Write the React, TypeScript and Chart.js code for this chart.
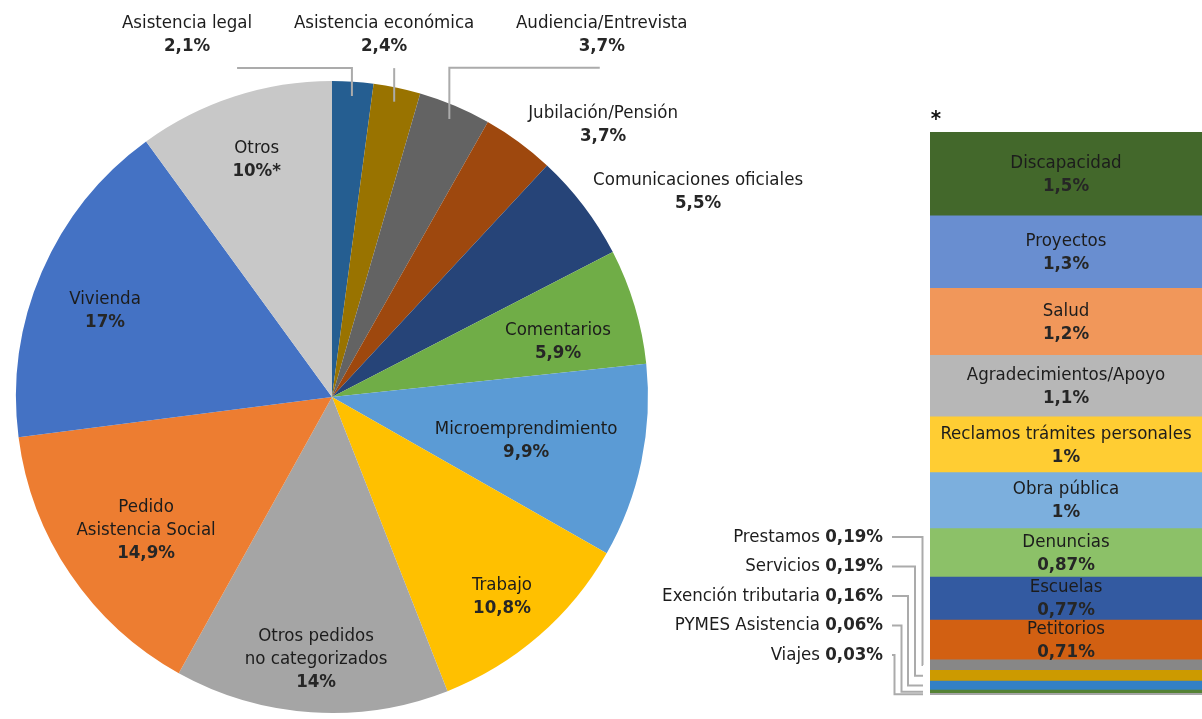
import React, { useEffect, useRef } from 'react';
import { Chart, registerables } from 'chart.js';

Chart.register(...registerables);

// ---------------- data ----------------
const PIE_LABELS = [
  'Asistencia legal',
  'Asistencia económica',
  'Audiencia/Entrevista',
  'Jubilación/Pensión',
  'Comunicaciones oficiales',
  'Comentarios',
  'Microemprendimiento',
  'Trabajo',
  'Otros pedidos\nno categorizados',
  'Pedido\nAsistencia Social',
  'Vivienda',
  'Otros',
];
const PIE_VALUES = [2.1, 2.4, 3.7, 3.7, 5.5, 5.9, 9.9, 10.8, 14, 14.9, 17, 10];
const PIE_SUFFIX = ['', '', '', '', '', '', '', '', '', '', '', '*'];
const PIE_COLORS = [
  '#255e91', '#997300', '#636363', '#9e480e', '#264478', '#70ad47',
  '#5b9bd5', '#ffc000', '#a5a5a5', '#ed7d31', '#4472c4', '#c8c8c8',
];

const BAR_LABELS = [
  'Discapacidad',
  'Proyectos',
  'Salud',
  'Agradecimientos/Apoyo',
  'Reclamos trámites personales',
  'Obra pública',
  'Denuncias',
  'Escuelas',
  'Petitorios',
  'Prestamos',
  'Servicios',
  'Exención tributaria',
  'PYMES Asistencia',
  'Viajes',
];
const BAR_VALUES = [1.5, 1.3, 1.2, 1.1, 1, 1, 0.87, 0.77, 0.71, 0.19, 0.19, 0.16, 0.06, 0.03];
const BAR_COLORS = [
  '#43682b', '#698ed0', '#f1975a', '#b7b7b7', '#ffcd33', '#7cafdd', '#8cc168',
  '#335aa1', '#d26012', '#878787', '#cc9a00', '#3380c6', '#558235', '#a5a5a5',
];
const BAR_INSIDE_COUNT = 9; // the first segments carry their labels inside

// ---------------- layout (not data) ----------------
const FONT = "'DejaVu Sans Condensed', 'DejaVu Sans', sans-serif";
const FS = 18.5;
const LINE_H = 23;
const NAME_COLOR = '#1c1c1c';
const VALUE_COLOR = '#262626';
const LEADER_COLOR = '#ababab';

// label placement per pie slice: [radius factor, angle offset in degrees from slice middle]
const PIE_LABEL_POLAR: [number, number][] = [
  [1.234, -25.6], [1.157, -3.7], [1.429, 13.8], [1.215, 8.7], [1.328, 7.95], [0.736, 3.0],
  [0.63, 1.0], [0.83, 0.5], [0.83, -0.3], [0.724, -1.5], [0.768, -2.6], [0.787, 0.4],
];
// leader lines for top labels: horizontal end offset from label x (null = no leader)
const PIE_LEADER_HX: (number | null)[] = [50, 0, -2, null, null, null, null, null, null, null, null, null];

const W = 1202;
const H = 719;
const PIE_CANVAS_W = 900;
const PIE_CX = 332;
const PIE_CY = 397;
const PIE_R = 316;

const BAR_CANVAS_X = 600;
const BAR_LEFT = 930;
const BAR_TOP = 132;
const BAR_BOTTOM = 695;

const SMALL_ROW_Y0 = 537;
const SMALL_ROW_STEP = 29.5;
const SMALL_TEXT_GAP = 47; // text right edge to bar left
const SMALL_LINE_START = 38; // leader start to bar left
const SMALL_VX = [7.5, 15, 22, 28.5, 35.5];
const SMALL_END = 7;

function fmt(v: number): string {
  return String(v).replace('.', ',') + '%';
}

const pieLabelPlugin = {
  id: 'pieLabels',
  afterDraw(chart: any) {
    const ctx = chart.ctx as CanvasRenderingContext2D;
    const meta = chart.getDatasetMeta(0);
    ctx.save();
    ctx.textAlign = 'center';
    ctx.textBaseline = 'middle';
    meta.data.forEach((arc: any, i: number) => {
      const p = arc.getProps(['x', 'y', 'startAngle', 'endAngle', 'outerRadius'], true);
      const mid = (p.startAngle + p.endAngle) / 2;
      const [rf, da] = PIE_LABEL_POLAR[i];
      const ang = mid + (da * Math.PI) / 180;
      const lx = p.x + Math.cos(ang) * rf * p.outerRadius;
      const ly = p.y + Math.sin(ang) * rf * p.outerRadius;
      const lines = PIE_LABELS[i].split('\n');
      const all = [...lines, fmt(PIE_VALUES[i]) + PIE_SUFFIX[i]];
      const y0 = ly - ((all.length - 1) * LINE_H) / 2;
      all.forEach((t, k) => {
        const bold = k === all.length - 1;
        ctx.font = `${bold ? 'bold ' : ''}${FS}px ${FONT}`;
        ctx.fillStyle = bold ? VALUE_COLOR : NAME_COLOR;
        ctx.fillText(t, lx, y0 + k * LINE_H);
      });
      const hx = PIE_LEADER_HX[i];
      if (hx !== null) {
        const sx = p.x + Math.cos(mid) * 0.955 * p.outerRadius;
        const sy = p.y + Math.sin(mid) * 0.955 * p.outerRadius;
        const ty = ly + 33;
        ctx.strokeStyle = LEADER_COLOR;
        ctx.lineWidth = 2;
        ctx.beginPath();
        ctx.moveTo(sx, sy);
        ctx.lineTo(sx, ty);
        if (hx !== 0) ctx.lineTo(lx + hx, ty);
        ctx.stroke();
      }
    });
    ctx.restore();
  },
};

const barLabelPlugin = {
  id: 'barLabels',
  afterDraw(chart: any) {
    const ctx = chart.ctx as CanvasRenderingContext2D;
    const n = BAR_LABELS.length;
    const area = chart.chartArea;
    ctx.save();
    ctx.textBaseline = 'middle';
    for (let i = 0; i < n; i++) {
      const dsIndex = n - 1 - i;
      const el = chart.getDatasetMeta(dsIndex).data[0];
      const pr = el.getProps(['x', 'y', 'base'], true);
      const cy = (pr.y + pr.base) / 2;
      if (i < BAR_INSIDE_COUNT) {
        ctx.textAlign = 'center';
        ctx.font = `${FS}px ${FONT}`;
        ctx.fillStyle = NAME_COLOR;
        ctx.fillText(BAR_LABELS[i], pr.x, cy - 11);
        ctx.font = `bold ${FS}px ${FONT}`;
        ctx.fillStyle = VALUE_COLOR;
        ctx.fillText(fmt(BAR_VALUES[i]), pr.x, cy + 12);
      } else {
        const k = i - BAR_INSIDE_COUNT;
        const ry = SMALL_ROW_Y0 + k * SMALL_ROW_STEP;
        const right = area.left - SMALL_TEXT_GAP;
        ctx.textAlign = 'right';
        ctx.font = `bold ${FS}px ${FONT}`;
        const vt = fmt(BAR_VALUES[i]);
        const vw = ctx.measureText(vt).width;
        ctx.fillStyle = VALUE_COLOR;
        ctx.fillText(vt, right, ry);
        ctx.font = `${FS}px ${FONT}`;
        const sw = ctx.measureText(' ').width;
        ctx.fillStyle = NAME_COLOR;
        ctx.fillText(BAR_LABELS[i], right - vw - sw, ry);
        // leader
        const vx = area.left - SMALL_VX[k];
        ctx.strokeStyle = LEADER_COLOR;
        ctx.lineWidth = 2;
        ctx.beginPath();
        ctx.moveTo(area.left - SMALL_LINE_START, ry);
        ctx.lineTo(vx, ry);
        ctx.lineTo(vx, cy);
        ctx.lineTo(area.left - SMALL_END, cy);
        ctx.stroke();
      }
    }
    // asterisk
    ctx.textAlign = 'center';
    ctx.font = `bold 22px ${FONT}`;
    ctx.fillStyle = '#111';
    ctx.fillText('*', area.left + 6, area.top - 12);
    ctx.restore();
  },
};

export default function App() {
  const pieRef = useRef<HTMLCanvasElement>(null);
  const barRef = useRef<HTMLCanvasElement>(null);

  useEffect(() => {
    const pie = new Chart(pieRef.current as HTMLCanvasElement, {
      type: 'pie',
      data: {
        labels: PIE_LABELS,
        datasets: [
          {
            data: PIE_VALUES,
            backgroundColor: PIE_COLORS,
            borderWidth: 0,
            hoverOffset: 0,
          },
        ],
      },
      options: {
        responsive: false,
        animation: false,
        devicePixelRatio: 1,
        layout: {
          padding: {
            left: PIE_CX - PIE_R,
            top: PIE_CY - PIE_R,
            right: PIE_CANVAS_W - (PIE_CX + PIE_R),
            bottom: H - (PIE_CY + PIE_R),
          },
        },
        plugins: { legend: { display: false }, tooltip: { enabled: false } },
      },
      plugins: [pieLabelPlugin],
    });

    const total = BAR_VALUES.reduce((a, b) => a + b, 0);
    const datasets = BAR_LABELS.map((l, i) => ({
      label: l,
      data: [BAR_VALUES[i]],
      backgroundColor: BAR_COLORS[i],
      borderWidth: 0,
      barPercentage: 1,
      categoryPercentage: 1,
    })).reverse();

    const bar = new Chart(barRef.current as HTMLCanvasElement, {
      type: 'bar',
      data: { labels: ['Otros'], datasets },
      options: {
        responsive: false,
        animation: false,
        devicePixelRatio: 1,
        layout: {
          padding: {
            left: BAR_LEFT - BAR_CANVAS_X,
            top: BAR_TOP,
            right: 0,
            bottom: H - BAR_BOTTOM,
          },
        },
        scales: {
          x: { display: false, stacked: true },
          y: { display: false, stacked: true, min: 0, max: total },
        },
        plugins: { legend: { display: false }, tooltip: { enabled: false } },
      },
      plugins: [barLabelPlugin],
    });

    return () => {
      pie.destroy();
      bar.destroy();
    };
  }, []);

  return (
    <div
      style={{
        position: 'fixed',
        left: 0,
        top: 0,
        width: W,
        height: H,
        overflow: 'hidden',
        background: '#ffffff',
      }}
    >
      <canvas
        ref={pieRef}
        width={PIE_CANVAS_W}
        height={H}
        style={{ position: 'absolute', left: 0, top: 0 }}
      />
      <canvas
        ref={barRef}
        width={W - BAR_CANVAS_X}
        height={H}
        style={{ position: 'absolute', left: BAR_CANVAS_X, top: 0 }}
      />
    </div>
  );
}
